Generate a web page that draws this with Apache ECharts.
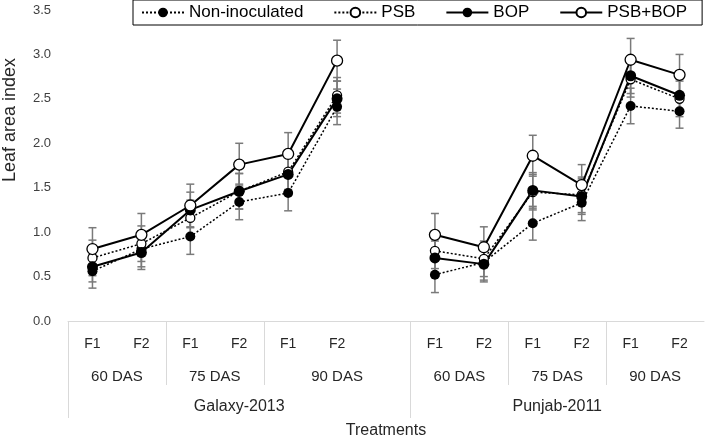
<!DOCTYPE html>
<html>
<head>
<meta charset="utf-8">
<script src="https://cdn.jsdelivr.net/npm/echarts@6/dist/echarts.min.js"></script>
<style>
html,body{margin:0;padding:0;background:#fff;}
#chart{width:707px;height:444px;}
</style>
</head>
<body>
<div id="chart"></div>
<script>
var FONT = 'Liberation Sans, Arial, Helvetica, sans-serif';

// categories (blank slot separates the two cultivars)
var categories = ['F1','F2','F1','F2','F1','F2','','F1','F2','F1','F2','F1','F2'];
var dasLabels = [['1.0','60 DAS'],['3.0','75 DAS'],['5.5','90 DAS'],['8.0','60 DAS'],['10.0','75 DAS'],['12.0','90 DAS']];
var groupLabels = [['3.5','Galaxy-2013'],['10.0','Punjab-2011']];
var yTicks = [0, 0.5, 1.0, 1.5, 2.0, 2.5, 3.0, 3.5];

// series values
var nonInoc = [0.56, 0.81, 0.95, 1.34, 1.44, 2.41, null, 0.52, 0.66, 1.10, 1.33, 2.42, 2.36];
var psb     = [0.71, 0.87, 1.16, 1.46, 1.68, 2.54, null, 0.79, 0.70, 1.45, 1.42, 2.72, 2.50];
var bop     = [0.61, 0.77, 1.25, 1.46, 1.65, 2.50, null, 0.71, 0.64, 1.47, 1.40, 2.76, 2.54];
var psbBop  = [0.81, 0.97, 1.30, 1.76, 1.88, 2.93, null, 0.97, 0.83, 1.86, 1.53, 2.94, 2.77];

// error (± values)
var nonInocErr = [0.19, 0.20, 0.20, 0.20, 0.20, 0.20, null, 0.20, 0.20, 0.19, 0.20, 0.20, 0.19];
var psbErr     = [0.20, 0.20, 0.20, 0.20, 0.20, 0.20, null, 0.20, 0.20, 0.20, 0.20, 0.20, 0.20];
var bopErr     = [0.17, 0.19, 0.20, 0.20, 0.20, 0.20, null, 0.19, 0.20, 0.20, 0.20, 0.20, 0.20];
var psbBopErr  = [0.24, 0.24, 0.24, 0.24, 0.24, 0.23, null, 0.24, 0.23, 0.23, 0.23, 0.24, 0.23];

var dasMap = {}; dasLabels.forEach(function(d){dasMap[d[0]] = d[1];});
var grpMap = {}; groupLabels.forEach(function(d){grpMap[d[0]] = d[1];});

function errData(vals, errs){
  var out = [];
  for (var i = 0; i < vals.length; i++) {
    if (vals[i] == null) continue;
    out.push([i, vals[i] - errs[i], vals[i] + errs[i]]);
  }
  return out;
}

function errSeries(vals, errs){
  return {
    type: 'custom',
    xAxisIndex: 0, yAxisIndex: 0,
    z: 1,
    silent: true,
    data: errData(vals, errs),
    renderItem: function(params, api){
      var x = api.value(0);
      var lo = api.coord([x, api.value(1)]);
      var hi = api.coord([x, api.value(2)]);
      var hw = 4;
      var st = {stroke: '#7a7a7a', lineWidth: 1.5};
      return {type: 'group', children: [
        {type: 'line', shape: {x1: lo[0], y1: lo[1], x2: hi[0], y2: hi[1]}, style: st},
        {type: 'line', shape: {x1: lo[0]-hw, y1: lo[1], x2: lo[0]+hw, y2: lo[1]}, style: st},
        {type: 'line', shape: {x1: hi[0]-hw, y1: hi[1], x2: hi[0]+hw, y2: hi[1]}, style: st}
      ]};
    }
  };
}

function lineSeries(name, vals, dotted, filled, size){
  return {
    name: name,
    type: 'line',
    xAxisIndex: 0, yAxisIndex: 0,
    z: 3,
    data: vals,
    symbol: 'circle',
    symbolSize: size,
    connectNulls: false,
    lineStyle: {color: '#000', width: dotted ? 1.5 : 2, type: dotted ? [2, 2] : 'solid'},
    itemStyle: {color: filled ? '#000' : '#fff', borderColor: '#000', borderWidth: filled ? 0 : 1.3, opacity: 1},
    emphasis: {disabled: true}
  };
}

var chart = echarts.init(document.getElementById('chart'), null, {renderer: 'canvas'});

var option = {
  animation: false,
  backgroundColor: '#fff',
  textStyle: {fontFamily: FONT},
  grid: {left: 68, right: 0, top: 10, bottom: 119, containLabel: false},
  legend: {
    left: 133, top: 0, width: 600,
    padding: [4, 15, 4, 8],
    borderColor: '#000', borderWidth: 1,
    itemWidth: 42, itemHeight: 12, itemGap: 30,
    textStyle: {fontSize: 17, color: '#000', fontFamily: FONT},
    data: ['Non-inoculated', 'PSB', 'BOP', 'PSB+BOP']
  },
  xAxis: [
    {
      type: 'category', data: categories, boundaryGap: true,
      axisLine: {show: true, lineStyle: {color: '#d9d9d9', width: 1}},
      axisTick: {show: false},
      axisLabel: {interval: 0, margin: 16, fontSize: 14, color: '#262626', fontFamily: FONT},
      splitLine: {show: false}
    },
    {
      type: 'value', min: 0, max: 13, interval: 0.5, position: 'bottom',
      axisLine: {show: false}, axisTick: {show: false}, splitLine: {show: false},
      axisLabel: {margin: 48, fontSize: 15, color: '#262626', fontFamily: FONT, showMinLabel: true, showMaxLabel: true,
        formatter: function(v){ return dasMap[v.toFixed(1)] || ''; }}
    },
    {
      type: 'value', min: 0, max: 13, interval: 0.5, position: 'bottom',
      axisLine: {show: false}, axisTick: {show: false}, splitLine: {show: false},
      axisLabel: {margin: 78, fontSize: 16, color: '#262626', fontFamily: FONT, showMinLabel: true, showMaxLabel: true,
        formatter: function(v){ return grpMap[v.toFixed(1)] || ''; }},
      name: 'Treatments', nameLocation: 'middle', nameGap: 102,
      nameTextStyle: {fontSize: 16, color: '#262626', fontFamily: FONT}
    }
  ],
  yAxis: {
    type: 'value', min: yTicks[0], max: yTicks[yTicks.length - 1], interval: 0.5,
    axisLine: {show: false}, axisTick: {show: false}, splitLine: {show: false},
    axisLabel: {margin: 17, fontSize: 13, color: '#404040', fontFamily: FONT,
      formatter: function(v){ return v.toFixed(1); }}
  },
  series: [
    errSeries(nonInoc, nonInocErr),
    errSeries(psb, psbErr),
    errSeries(bop, bopErr),
    errSeries(psbBop, psbBopErr),
    lineSeries('Non-inoculated', nonInoc, true, true, 10),
    lineSeries('PSB', psb, true, false, 9),
    lineSeries('BOP', bop, false, true, 11),
    lineSeries('PSB+BOP', psbBop, false, false, 11)
  ]
};
chart.setOption(option);

// separators of the multi-level category axis, placed through the axis scale
var y0 = chart.convertToPixel({yAxisIndex: 0}, 0);
var shortB = [2, 4, 9, 11];
var longB = [0, 7];
var g = [];
shortB.forEach(function(b){
  var x = Math.round(chart.convertToPixel({xAxisIndex: 1}, b)) + 0.5;
  g.push({type: 'line', shape: {x1: x, y1: y0, x2: x, y2: y0 + 64}, style: {stroke: '#d9d9d9', lineWidth: 1}, silent: true});
});
longB.forEach(function(b){
  var x = Math.round(chart.convertToPixel({xAxisIndex: 1}, b)) + 0.5;
  g.push({type: 'line', shape: {x1: x, y1: y0, x2: x, y2: y0 + 97}, style: {stroke: '#d9d9d9', lineWidth: 1}, silent: true});
});
g.push({type: 'text', x: 10, y: 120, rotation: Math.PI / 2,
  style: {text: 'Leaf area index', fontSize: 18, fontFamily: FONT, fill: '#262626', align: 'center', verticalAlign: 'middle'}});
chart.setOption({graphic: g});
</script>
</body>
</html>
